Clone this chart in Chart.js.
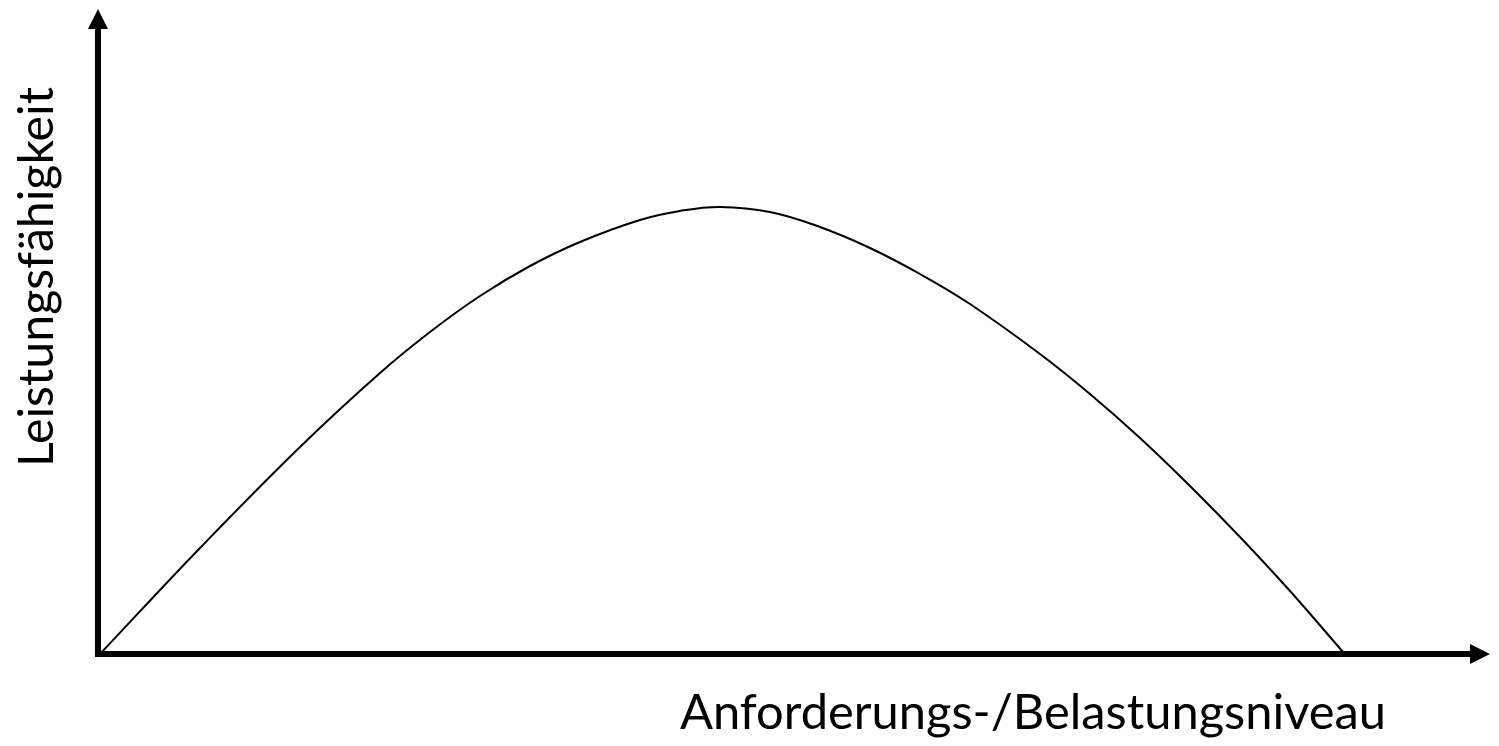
<!DOCTYPE html>
<html>
<head>
<meta charset="utf-8">
<script src="https://cdn.jsdelivr.net/npm/chart.js@4.4.1/dist/chart.umd.min.js"></script>
<style>
  html, body { margin: 0; padding: 0; background: #ffffff; }
  #wrap { width: 1499px; height: 746px; position: relative; }
</style>
</head>
<body>
<div id="wrap"><canvas id="c" width="1499" height="746"></canvas></div>
<script>
// Curve readings (x: Anforderungs-/Belastungsniveau, y: Leistungsfähigkeit), in arbitrary units
const levelX = [2, 102, 202, 282, 332, 382, 432, 482, 542, 582, 622, 672, 722, 772, 822, 872, 942, 992, 1042, 1092, 1142, 1192, 1245];
const performanceY = [0, 106, 207, 281, 322, 358, 388, 412, 434, 443, 447, 442, 427, 406, 380, 350, 300, 260, 216, 168, 117, 63, 2];
const xTitle = "Anforderungs-/Belastungsniveau";
const yTitle = "Leistungsfähigkeit";
const xRange = [0, 1392];
const yRange = [0, 645];

const points = levelX.map((x, i) => ({ x: x, y: performanceY[i] }));

const FONT = "Lato, 'Open Sans', 'DejaVu Sans', sans-serif";

function fitFont(ctx, text, targetWidth) {
  let size = 40;
  ctx.font = size + "px " + FONT;
  const w = ctx.measureText(text).width;
  size = size * targetWidth / w;
  return size;
}

const axesPlugin = {
  id: 'axesArrows',
  afterDatasetsDraw(chart) {
    const ctx = chart.ctx;
    const xs = chart.scales.x, ys = chart.scales.y;
    const x0 = xs.getPixelForValue(xRange[0]);
    const x1 = xs.getPixelForValue(xRange[1]);
    const y0 = ys.getPixelForValue(yRange[0]);
    const y1 = ys.getPixelForValue(yRange[1]);
    const lw = 6, head = 20, half = 10;
    ctx.save();
    ctx.strokeStyle = '#000';
    ctx.fillStyle = '#000';
    ctx.lineWidth = lw;
    ctx.lineCap = 'butt';
    // y axis line
    ctx.beginPath();
    ctx.moveTo(x0, y0 + lw / 2);
    ctx.lineTo(x0, y1 + head - 1);
    ctx.stroke();
    // x axis line
    ctx.beginPath();
    ctx.moveTo(x0 - lw / 2, y0);
    ctx.lineTo(x1 - head + 1, y0);
    ctx.stroke();
    // arrow heads
    ctx.beginPath();
    ctx.moveTo(x0, y1);
    ctx.lineTo(x0 - half, y1 + head);
    ctx.lineTo(x0 + half, y1 + head);
    ctx.closePath();
    ctx.fill();
    ctx.beginPath();
    ctx.moveTo(x1, y0);
    ctx.lineTo(x1 - head, y0 - half);
    ctx.lineTo(x1 - head, y0 + half);
    ctx.closePath();
    ctx.fill();

    // axis titles
    ctx.fillStyle = '#000';
    ctx.textBaseline = 'alphabetic';
    let s = fitFont(ctx, xTitle, 706);
    ctx.font = s + "px " + FONT;
    ctx.textAlign = 'left';
    ctx.fillText(xTitle, 680, 729);

    s = fitFont(ctx, yTitle, 380);
    ctx.font = s + "px " + FONT;
    ctx.save();
    ctx.translate(53, 277);
    ctx.rotate(-Math.PI / 2);
    ctx.textAlign = 'center';
    ctx.fillText(yTitle, 0, 0);
    ctx.restore();
    ctx.restore();
  }
};

new Chart(document.getElementById('c'), {
  type: 'line',
  data: {
    datasets: [{
      data: points,
      borderColor: '#000',
      borderWidth: 2,
      pointRadius: 0,
      fill: false,
      tension: 0.4
    }]
  },
  options: {
    responsive: false,
    animation: false,
    layout: { padding: { left: 98, right: 9, top: 9, bottom: 92 } },
    plugins: { legend: { display: false }, tooltip: { enabled: false } },
    scales: {
      x: {
        type: 'linear', min: xRange[0], max: xRange[1],
        grid: { display: false, drawTicks: false },
        border: { display: false },
        ticks: { display: false }
      },
      y: {
        type: 'linear', min: yRange[0], max: yRange[1],
        grid: { display: false, drawTicks: false },
        border: { display: false },
        ticks: { display: false }
      }
    }
  },
  plugins: [axesPlugin]
});
</script>
</body>
</html>
